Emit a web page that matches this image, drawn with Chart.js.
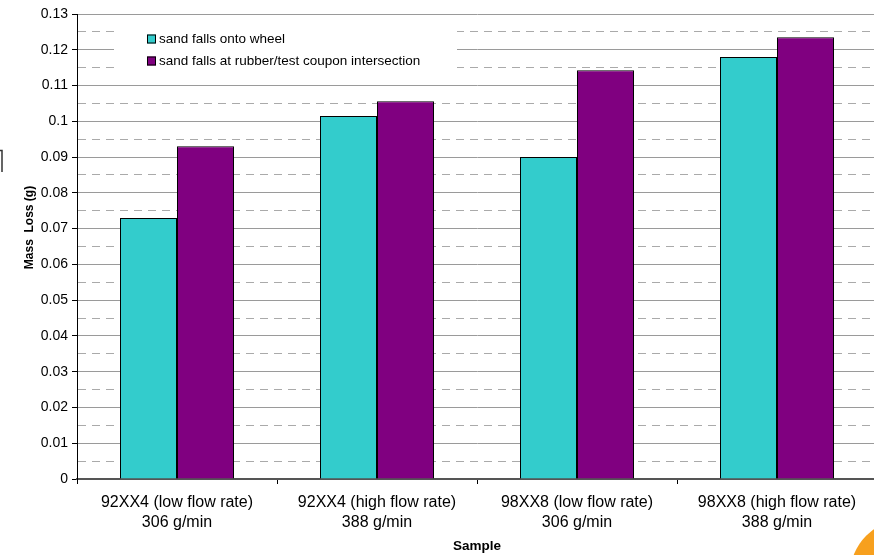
<!DOCTYPE html>
<html><head><meta charset="utf-8">
<script src="https://cdn.jsdelivr.net/npm/chart.js@4/dist/chart.umd.min.js"></script>
<style>html,body{margin:0;padding:0;overflow:hidden;background:#fff}
#wrap{width:880px;height:555px}</style>
</head><body><div id="wrap"><canvas id="c" width="880" height="555" style="width:880px;height:555px"></canvas></div>
<script>
const categories = [
  ['92XX4 (low flow rate)', '306 g/min'],
  ['92XX4 (high flow rate)', '388 g/min'],
  ['98XX8 (low flow rate)', '306 g/min'],
  ['98XX8 (high flow rate)', '388 g/min']
];
const seriesLabels = ['sand falls onto wheel', 'sand falls at rubber/test coupon intersection'];
const wheelValues = [0.073, 0.1015, 0.090, 0.118];
const intersectionValues = [0.093, 0.1056, 0.1143, 0.1235];
const yMin = 0, yMax = 0.13, yMinorStep = 0.005;
const xTitle = 'Sample';
const yTitle = 'Mass  Loss (g)';

const FONT = '"Liberation Sans", Arial, sans-serif';
const isMajor = v => Math.abs(Math.round(v * 100) - v * 100) < 0.1;

const legendPlugin = {
  id: 'insideLegend',
  beforeDatasetsDraw(chart) {
    const ctx = chart.ctx, a = chart.chartArea;
    ctx.save();
    ctx.fillStyle = '#fff';
    ctx.fillRect(a.left + 37, a.top + 10, 343, 52);
    ctx.font = '13.5px ' + FONT;
    ctx.textBaseline = 'middle';
    chart.data.datasets.forEach((ds, i) => {
      const y = a.top + 25 + i * 22;
      const x = a.left + 70;
      ctx.fillStyle = ds.backgroundColor;
      ctx.fillRect(x, y - 4.5, 9, 9);
      ctx.strokeStyle = '#000';
      ctx.lineWidth = 1;
      ctx.strokeRect(x + 0.5, y - 4, 8, 8);
      ctx.fillStyle = '#000';
      ctx.fillText(ds.label, x + 12, y + 0.5);
    });
    ctx.restore();
  },
  afterDraw(chart) {
    const ctx = chart.ctx, a = chart.chartArea;
    ctx.save();
    // y axis title
    ctx.translate(30, (a.top + a.bottom) / 2 - 19);
    ctx.rotate(-Math.PI / 2);
    ctx.font = 'bold 12px ' + FONT;
    ctx.fillStyle = '#000';
    ctx.textAlign = 'center';
    ctx.textBaseline = 'middle';
    ctx.fillText(yTitle, 0, 0);
    ctx.restore();
    // decorative fragments at the edges
    ctx.save();
    ctx.fillStyle = '#F7A01E';
    ctx.beginPath();
    ctx.arc(906, 575, 56, 0, Math.PI * 2);
    ctx.fill();
    ctx.strokeStyle = '#333';
    ctx.lineWidth = 1.5;
    ctx.beginPath();
    ctx.moveTo(0, 150.5);
    ctx.lineTo(2, 150.5);
    ctx.lineTo(2, 172);
    ctx.stroke();
    ctx.restore();
  }
};

new Chart(document.getElementById('c'), {
  type: 'bar',
  data: {
    labels: categories,
    datasets: [
      { label: seriesLabels[0], data: wheelValues, backgroundColor: '#33CCCC', borderColor: '#000', borderWidth: 1, categoryPercentage: 0.57, barPercentage: 1 },
      { label: seriesLabels[1], data: intersectionValues, backgroundColor: '#800080', borderColor: '#000', borderWidth: 1, categoryPercentage: 0.57, barPercentage: 1 }
    ]
  },
  options: {
    responsive: false,
    animation: false,
    devicePixelRatio: 1,
    layout: { padding: { top: 14, right: 3, left: 0, bottom: 0 } },
    plugins: { legend: { display: false }, tooltip: { enabled: false } },
    scales: {
      x: {
        afterFit: s => { s.height = 76; },
        grid: { offset: true, drawOnChartArea: false, tickLength: 5, color: '#000', tickColor: '#000' },
        border: { color: '#555', width: 2 },
        ticks: { color: '#000', font: { family: FONT, size: 16, lineHeight: 1.25 }, padding: 9, maxRotation: 0, autoSkip: false },
        title: { display: true, text: xTitle, color: '#000', font: { family: FONT, size: 13.5, weight: 'bold' }, padding: { top: 0, bottom: 1 } }
      },
      y: {
        min: yMin, max: yMax,
        afterFit: s => { s.width = 77; },
        grid: {
          color: ctx => isMajor(ctx.tick.value) ? '#9a9a9a' : '#aaaaaa',
          tickColor: ctx => isMajor(ctx.tick.value) ? '#000' : 'rgba(0,0,0,0)',
          tickLength: 5
        },
        border: { color: '#000', width: 1, dash: ctx => (ctx.tick && !isMajor(ctx.tick.value)) ? [8, 6] : [] },
        ticks: {
          stepSize: yMinorStep, autoSkip: false, color: '#000', padding: 4,
          font: { family: FONT, size: 14 },
          callback: v => isMajor(v) ? String(Math.round(v * 100) / 100) : ''
        }
      }
    }
  },
  plugins: [legendPlugin]
});
</script>
</body></html>
